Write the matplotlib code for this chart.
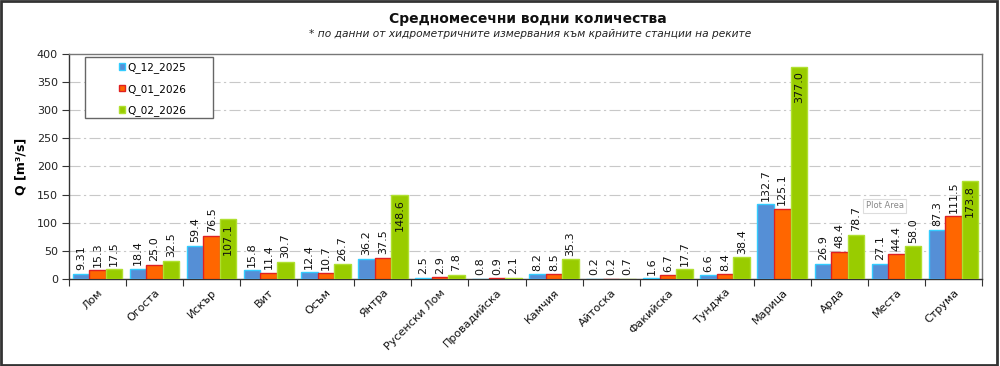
import matplotlib
matplotlib.use("Agg")
import matplotlib.pyplot as plt
from matplotlib.patches import Rectangle
import numpy as np

rivers = ["Лом", "Огоста", "Искър", "Вит", "Осъм", "Янтра", "Русенски Лом",
          "Провадийска", "Камчия", "Айтоска", "Факийска", "Тунджа", "Марица",
          "Арда", "Места", "Струма"]
q_12_2025 = [9.31, 18.4, 59.4, 15.8, 12.4, 36.2, 2.5, 0.8, 8.2, 0.2, 1.6, 6.6, 132.7, 26.9, 27.1, 87.3]
q_01_2026 = [15.3, 25.0, 76.5, 11.4, 10.7, 37.5, 2.9, 0.9, 8.5, 0.2, 6.7, 8.4, 125.1, 48.4, 44.4, 111.5]
q_02_2026 = [17.5, 32.5, 107.1, 30.7, 26.7, 148.6, 7.8, 2.1, 35.3, 0.7, 17.7, 38.4, 377.0, 78.7, 58.0, 173.8]
series_names = ["Q_12_2025", "Q_01_2026", "Q_02_2026"]
y_ticks = [0, 50, 100, 150, 200, 250, 300, 350, 400]

plt.rcParams['font.family'] = ['DejaVu Sans']

fig = plt.figure(figsize=(10, 3.66), dpi=100)
ax = fig.add_axes([0.069, 0.2377, 0.913, 0.615])

colors = ["#558FD6", "#FF6600", "#99CC00"]
edges = ["#33CCFF", "#E02020", "#B0E030"]
w = 0.29
x = np.arange(len(rivers))
series = [q_12_2025, q_01_2026, q_02_2026]


def fmt(v):
    if v < 10 and abs(round(v, 1) - v) > 1e-9:
        return f"{v:.2f}"
    return f"{v:.1f}"


for i, (vals, c, e, name) in enumerate(zip(series, colors, edges, series_names)):
    pos = x + (i - 1) * w
    ax.bar(pos, vals, width=w, color=c, edgecolor=e, linewidth=1.0, label=name, zorder=3)
    for px, v in zip(pos, vals):
        inside = (i == 2 and v > 100)
        if inside:
            ax.annotate(fmt(v), (px, v), xytext=(0, -3), textcoords="offset points",
                        rotation=90, ha="center", va="top", fontsize=8, color="#111111", zorder=4)
        else:
            ax.annotate(fmt(v), (px, v), xytext=(0, 2.5), textcoords="offset points",
                        rotation=90, ha="center", va="bottom", fontsize=8, color="#111111", zorder=4)

ax.set_xlim(-0.5, len(rivers) - 0.5)
ax.set_ylim(0, 400)
ax.set_yticks(y_ticks)
ax.set_yticklabels([str(t) for t in y_ticks], fontsize=8, color="#222222")
ax.set_xticks(x)
ax.set_xticklabels(rivers, rotation=45, ha="right", va="top", rotation_mode="anchor",
                   fontsize=8, color="#111111")
ax.tick_params(axis="x", which="major", length=0, pad=6)
ax.set_xticks(np.arange(-0.5, len(rivers)), minor=True)
ax.tick_params(axis="x", which="minor", length=5, width=0.8, color="#333333", direction="out")
ax.tick_params(axis="y", length=5, width=0.8, color="#333333", direction="out", pad=3)

for yv in y_ticks[1:-1]:
    ax.axhline(yv, color="#C8C8C8", linewidth=0.8, linestyle=(0, (10, 3, 2, 3)), zorder=1)

for s in ["left", "bottom"]:
    ax.spines[s].set_color("#333333")
    ax.spines[s].set_linewidth(1.0)
for s in ["top", "right"]:
    ax.spines[s].set_color("#777777")
    ax.spines[s].set_linewidth(1.0)

ax.set_ylabel("Q [m³/s]", fontsize=9, fontweight="bold", labelpad=7)

# legend frame
ax.add_patch(Rectangle((0.0175, 0.715), 0.140, 0.272, transform=ax.transAxes,
                       facecolor="white", edgecolor="#666666", linewidth=1.0, zorder=5))
leg = ax.legend(loc="upper left", bbox_to_anchor=(0.045, 1.0), frameon=False,
                fontsize=7.6, handlelength=0.6, handleheight=0.6, handletextpad=0.2,
                labelspacing=1.0, borderpad=0.3)
leg.set_zorder(6)

# tooltip artifact
ax.text(0.8935, 0.325, "Plot Area", transform=ax.transAxes, fontsize=6, color="#888888",
        ha="center", va="center", zorder=7,
        bbox=dict(boxstyle="square,pad=0.3", facecolor="white", edgecolor="#DDDDDD", linewidth=0.8))

fig.text(0.528, 0.948, "Средномесечни водни количества", ha="center", va="center",
         fontsize=10, fontweight="bold", color="#111111")
fig.text(0.530, 0.908, "* по данни от хидрометричните измервания към крайните станции на реките",
         ha="center", va="center", fontsize=7.7, style="italic", color="#222222")

fig.add_artist(Rectangle((0.001, 0.003), 0.996, 0.994, transform=fig.transFigure,
                         facecolor="none", edgecolor="#333333", linewidth=2.0))

fig.savefig("out.png", dpi=100)
